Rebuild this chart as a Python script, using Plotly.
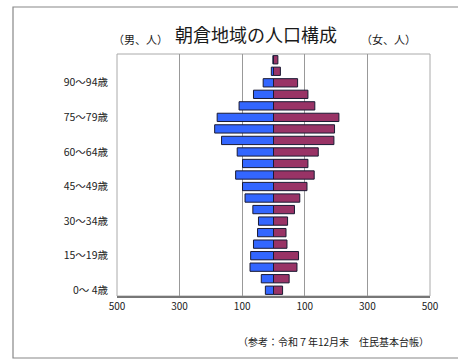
import plotly.graph_objects as go

# Age groups, youngest first
ages = ["0～ 4歳", "5～ 9歳", "10～14歳", "15～19歳", "20～24歳", "25～29歳",
        "30～34歳", "35～39歳", "40～44歳", "45～49歳", "50～54歳", "55～59歳",
        "60～64歳", "65～69歳", "70～74歳", "75～79歳", "80～84歳", "85～89歳",
        "90～94歳", "95～99歳", "100歳以上"]

# Population (persons)
male = [26, 39, 75, 73, 64, 51, 48, 66, 91, 99, 121, 99,
        116, 166, 188, 180, 110, 64, 33, 7, 2]
female = [29, 50, 75, 80, 43, 40, 45, 67, 84, 107, 130, 110,
          143, 193, 195, 209, 132, 110, 77, 22, 14]

shown_ages = ages[::3]
x_ticks = [-500, -300, -100, 100, 300, 500]
x_labels = ["500", "300", "100", "100", "300", "500"]

FONT = "Noto Sans CJK JP"
L, R, T, B = 117, 430, 54, 296  # plot area in pixels
W, H = 461, 359


def px(x):
    return (x - L) / (R - L)


def py(y):
    return (B - y) / (B - T)


fig = go.Figure()
fig.add_trace(go.Bar(
    y=ages, x=[-v for v in male], orientation="h", width=0.72,
    marker=dict(color="#3366ff", line=dict(color="#1a1a33", width=1)),
    name="男", hoverinfo="skip"))
fig.add_trace(go.Bar(
    y=ages, x=female, orientation="h", width=0.72,
    marker=dict(color="#993366", line=dict(color="#1a1a33", width=1)),
    name="女", hoverinfo="skip"))

fig.update_layout(
    width=W, height=H, barmode="overlay", showlegend=False,
    paper_bgcolor="white", plot_bgcolor="white",
    margin=dict(l=L, r=W - R, t=T, b=H - B, pad=0),
    font=dict(family=FONT, color="#222222", size=10),
    xaxis=dict(range=[-500, 500], tickvals=x_ticks, ticktext=x_labels,
               showgrid=True, gridcolor="#999999", gridwidth=1,
               zeroline=False, showline=True, linecolor="#777777",
               linewidth=1.5, mirror=False, ticks="",
               tickfont=dict(size=10, family=FONT)),
    yaxis=dict(type="category", categoryorder="array", categoryarray=ages,
               range=[-0.5, len(ages) - 0.5],
               tickvals=shown_ages, ticktext=shown_ages,
               showgrid=False, zeroline=False, showline=False, ticks="",
               ticklabelstandoff=8,
               tickfont=dict(size=10.5, family=FONT)),
)

# plot-area frame
fig.add_shape(type="rect", xref="paper", yref="paper", x0=0, x1=1, y0=0, y1=1,
              line=dict(color="#aaaaaa", width=1), layer="below")
# outer frame: left edge, top and bottom running to the right edge
fig.add_shape(type="path", xref="paper", yref="paper",
              path=f"M {px(458)},{py(7)} L {px(13)},{py(7)} "
                   f"L {px(13)},{py(358)} L {px(458)},{py(358)}",
              line=dict(color="#888888", width=1.2))


def label(text, x, y, size, anchor="center"):
    fig.add_annotation(text=text, xref="paper", yref="paper",
                       x=px(x), y=py(y), xanchor=anchor, yanchor="middle",
                       showarrow=False,
                       font=dict(size=size, family=FONT, color="#1a1a1a"))


label("朝倉地域の人口構成", 256, 34, 18)
label("（男、人）", 140, 39, 11)
label("（女、人）", 388, 39, 11)
label("（参考：令和７年12月末　住民基本台帳）", 431, 341, 10, anchor="right")

fig.write_html("out.html")
